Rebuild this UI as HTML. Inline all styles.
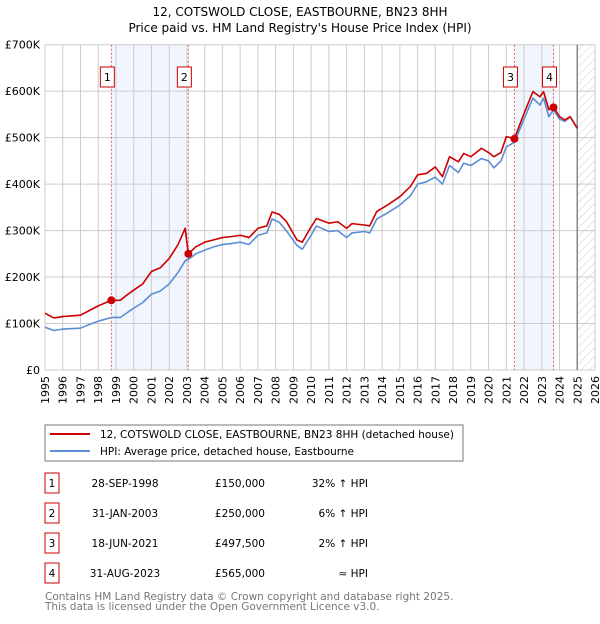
<!DOCTYPE html>
<html><head><meta charset="utf-8"><style>
body{margin:0;background:#fff;font-family:"DejaVu Sans","Liberation Sans",sans-serif;}
svg text{font-family:"DejaVu Sans","Liberation Sans",sans-serif;}
</style></head><body>
<svg id="chart" width="600" height="620" xmlns="http://www.w3.org/2000/svg">
<defs><pattern id="hatch" width="6" height="6" patternUnits="userSpaceOnUse" patternTransform="rotate(45)"><line x1="0" y1="0" x2="0" y2="6" stroke="#ccc" stroke-width="1"/></pattern></defs>
<text x="300" y="16" text-anchor="middle" font-size="12">12, COTSWOLD CLOSE, EASTBOURNE, BN23 8HH</text>
<text x="300" y="32" text-anchor="middle" font-size="12">Price paid vs. HM Land Registry's House Price Index (HPI)</text>
<g id="plot"></g>
<rect x="45" y="425" width="418" height="36" fill="#fff" stroke="#777"/>
<line x1="50" y1="434" x2="90" y2="434" stroke="#cc0000" stroke-width="2"/>
<text x="100" y="438" font-size="10.5">12, COTSWOLD CLOSE, EASTBOURNE, BN23 8HH (detached house)</text>
<line x1="50" y1="451" x2="90" y2="451" stroke="#5b8fd4" stroke-width="2"/>
<text x="100" y="455" font-size="10.5">HPI: Average price, detached house, Eastbourne</text>
<g id="table" font-size="10.5"></g>
<text x="45" y="600" font-size="10.5" fill="#777">Contains HM Land Registry data © Crown copyright and database right 2025.</text>
<text x="45" y="610" font-size="10.5" fill="#777">This data is licensed under the Open Government Licence v3.0.</text>
</svg>
<script>
const years=[1995,1995.5,1996,1997,1997.5,1998,1998.74,1999.25,1999.5,2000,2000.5,2001,2001.5,2002,2002.5,2002.9,2003.08,2003.5,2004,2004.5,2005,2005.5,2006,2006.5,2007,2007.5,2007.8,2008.2,2008.6,2009.2,2009.5,2010,2010.3,2011,2011.5,2012,2012.3,2013,2013.3,2013.7,2014.3,2015,2015.6,2016,2016.5,2017,2017.4,2017.8,2018.3,2018.6,2019,2019.6,2020,2020.3,2020.7,2021,2021.46,2022,2022.5,2022.9,2023.1,2023.4,2023.66,2024,2024.3,2024.6,2025];
const propertyValues=[122,112,115,118,128,138,150,150,158,172,185,212,220,240,270,305,250,265,275,280,285,287,290,285,305,310,340,335,320,280,275,308,326,316,319,305,315,312,310,341,355,373,395,420,423,437,416,459,448,466,459,477,468,459,468,502,498,552,599,588,599,560,567,545,538,545,520];
const hpiValues=[92,85,88,90,98,105,113,113,120,133,145,163,170,185,210,235,238,250,258,265,270,272,275,270,290,295,325,318,300,268,260,290,310,298,300,285,295,298,295,325,338,355,375,400,405,415,400,440,425,445,440,455,450,435,450,480,490,540,585,570,585,545,560,540,535,545,520];
const yTicks=[0,100,200,300,400,500,600,700];
const yTickLabels=["£0","£100K","£200K","£300K","£400K","£500K","£600K","£700K"];
const xTicks=[1995,1996,1997,1998,1999,2000,2001,2002,2003,2004,2005,2006,2007,2008,2009,2010,2011,2012,2013,2014,2015,2016,2017,2018,2019,2020,2021,2022,2023,2024,2025,2026];
const saleLabels=["1","2","3","4"];
const saleYears=[1998.74,2003.08,2021.46,2023.66];
const salePrices=[150,250,497.5,565];
const saleDates=["28-SEP-1998","31-JAN-2003","18-JUN-2021","31-AUG-2023"];
const salePriceText=["£150,000","£250,000","£497,500","£565,000"];
const saleHpiText=["32% ↑ HPI","6% ↑ HPI","2% ↑ HPI","≈ HPI"];
const X0=45,X1=595,Y0=370,Y1=44.7;
const xs=y=>X0+(y-1995)/(2026-1995)*(X1-X0);
const ys=v=>Y0-v/700*(Y0-Y1);
const NS="http://www.w3.org/2000/svg";
const plot=document.getElementById('plot');
function mk(tag,attrs,parent){const e=document.createElementNS(NS,tag);for(const k in attrs)e.setAttribute(k,attrs[k]);(parent||plot).appendChild(e);return e;}
let r=mk('rect',{x:xs(saleYears[0]),y:Y1,width:xs(saleYears[1])-xs(saleYears[0]),height:Y0-Y1,fill:'#eef3fc',opacity:0.8});


r=mk('rect',{x:xs(saleYears[2]),y:Y1,width:xs(saleYears[3])-xs(saleYears[2]),height:Y0-Y1,fill:'#eef3fc',opacity:0.8});


r=mk('rect',{x:xs(2025),y:Y1,width:xs(2026)-xs(2025),height:Y0-Y1,fill:'url(#hatch)'});


xTicks.forEach(t=>{const l=mk('line',{x1:xs(t),x2:xs(t),y1:Y1,y2:Y0,stroke:'#ccc','stroke-width':1});


const tx=mk('text',{x:0,y:0,'font-size':11,'text-anchor':'end',transform:`translate(${xs(t)+4},${Y0+6}) rotate(-90)`});tx.textContent=t;

});
yTicks.forEach((t,i)=>{const l=mk('line',{x1:X0,x2:X1,y1:ys(t),y2:ys(t),stroke:'#ccc','stroke-width':1});


const tx=mk('text',{x:40,y:ys(t)+4,'font-size':11,'text-anchor':'end'});tx.textContent=yTickLabels[i];

});
const now=mk('line',{x1:xs(2025),x2:xs(2025),y1:Y1,y2:Y0,stroke:'#888','stroke-width':1.5});


saleYears.forEach((s,i)=>{const l=mk('line',{x1:xs(s),x2:xs(s),y1:Y1,y2:Y0,stroke:'#e06060','stroke-width':1,'stroke-dasharray':'2,2'});


const b=mk('rect',{x:xs(s)-11,y:67,width:14,height:20,fill:'#fff',stroke:'#cc0000'});


const t=mk('text',{x:xs(s)-4,y:81,'font-size':11,'text-anchor':'middle'});t.textContent=saleLabels[i];

});
const line=(vals,col,name)=>{const p=mk('polyline',{points:years.map((y,i)=>xs(y)+','+ys(vals[i])).join(' '),fill:'none',stroke:col,'stroke-width':1.6,'stroke-linejoin':'round'});

};
line(hpiValues,'#5b8fd4','hpi-line');
line(propertyValues,'#cc0000','property-price-line');
saleYears.forEach((s,i)=>{const c=mk('circle',{cx:xs(s),cy:ys(salePrices[i]),r:4,fill:'#cc0000'});

});
const tb=document.getElementById('table');
saleLabels.forEach((lab,i)=>{const y=483+i*30;
const b=mk('rect',{x:45,y:y-10,width:14,height:20,fill:'#fff',stroke:'#cc0000'},tb);


const cells=[[52,'middle',lab],[125,'middle',saleDates[i]],[265,'end',salePriceText[i]],[368,'end',saleHpiText[i]]];
cells.forEach(c=>{const t=mk('text',{x:c[0],y:y+4,'text-anchor':c[1]},tb);t.textContent=c[2];

});});
</script>
</body></html>
